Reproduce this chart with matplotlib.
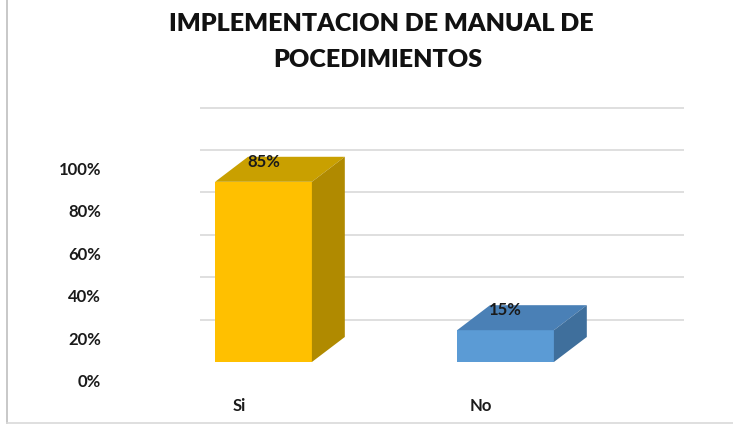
import matplotlib.pyplot as plt
from matplotlib.patches import Polygon

plt.rcParams['font.family'] = ['Lato', 'DejaVu Sans']

# datos del grafico
categorias = ['Si', 'No']
porcentajes = [85, 15]
etiquetas_valor = ['85%', '15%']
ticks_y = [0, 20, 40, 60, 80, 100]
etiquetas_y = ['0%', '20%', '40%', '60%', '80%', '100%']
lineas_grid = [20, 40, 60, 80, 100, 120]

# colores por cara: frente, techo, lado
colores = [
    ('#FFC000', '#C9A000', '#B08A00'),
    ('#5B9BD5', '#4A80B6', '#3F6F9C'),
]

ANCHO = 0.40
PROF_X = 0.136
PROF_Y = 11.8


def barra_3d(ax, x, altura, cols):
    frente, techo, lado = cols
    x0, x1 = x - ANCHO / 2, x + ANCHO / 2
    ax.add_patch(Polygon([(x0, 0), (x1, 0), (x1, altura), (x0, altura)],
                         closed=True, facecolor=frente, edgecolor='none', zorder=3))
    ax.add_patch(Polygon([(x0, altura), (x1, altura), (x1 + PROF_X, altura + PROF_Y),
                          (x0 + PROF_X, altura + PROF_Y)],
                         closed=True, facecolor=techo, edgecolor='none', zorder=3))
    ax.add_patch(Polygon([(x1, 0), (x1 + PROF_X, PROF_Y), (x1 + PROF_X, altura + PROF_Y),
                          (x1, altura)],
                         closed=True, facecolor=lado, edgecolor='none', zorder=3))


fig = plt.figure(figsize=(7.33, 4.26), dpi=100)
ax = fig.add_axes([0, 0, 1, 1])
ax.set_xlim(-263.5 / 242, (733 - 263.5) / 242)
ax.set_ylim(-64 / 2.12, (426 - 64) / 2.12)
ax.axis('off')

ax.hlines(lineas_grid, -0.262, 1.738, colors='#d9d9d9', linewidth=1.2, zorder=1)

for i, (cat, val) in enumerate(zip(categorias, porcentajes)):
    barra_3d(ax, i, val, colores[i])
    ax.annotate(etiquetas_valor[i], (i, val), xytext=(0, 20), textcoords='offset pixels',
                ha='center', va='center', fontsize=12, fontweight='bold', color='#1a1a1a', zorder=5)
    ax.annotate(cat, (i, 0), xytext=(-24.5, -44), textcoords='offset pixels',
                ha='center', va='center', fontsize=12, fontweight='bold', color='#1a1a1a')

for v, lab in zip(ticks_y, etiquetas_y):
    ax.annotate(lab, (-0.671, v), xytext=(0, -20), textcoords='offset pixels',
                ha='right', va='center', fontsize=12, fontweight='bold', color='#1a1a1a')

fig.text(0.52, 1 - 24 / 426, 'IMPLEMENTACION DE MANUAL DE', ha='center', va='center',
         fontsize=18, fontweight='heavy', color='#111111')
fig.text(0.516, 1 - 60 / 426, 'POCEDIMIENTOS', ha='center', va='center',
         fontsize=18, fontweight='heavy', color='#111111')

# marco gris
fig.add_artist(plt.Line2D([7 / 733, 7 / 733], [3 / 426, 1], color='#bfbfbf', linewidth=1.2))
fig.add_artist(plt.Line2D([7 / 733, 1], [3 / 426, 3 / 426], color='#d9d9d9', linewidth=1.2))

fig.savefig('out.png', dpi=100)
